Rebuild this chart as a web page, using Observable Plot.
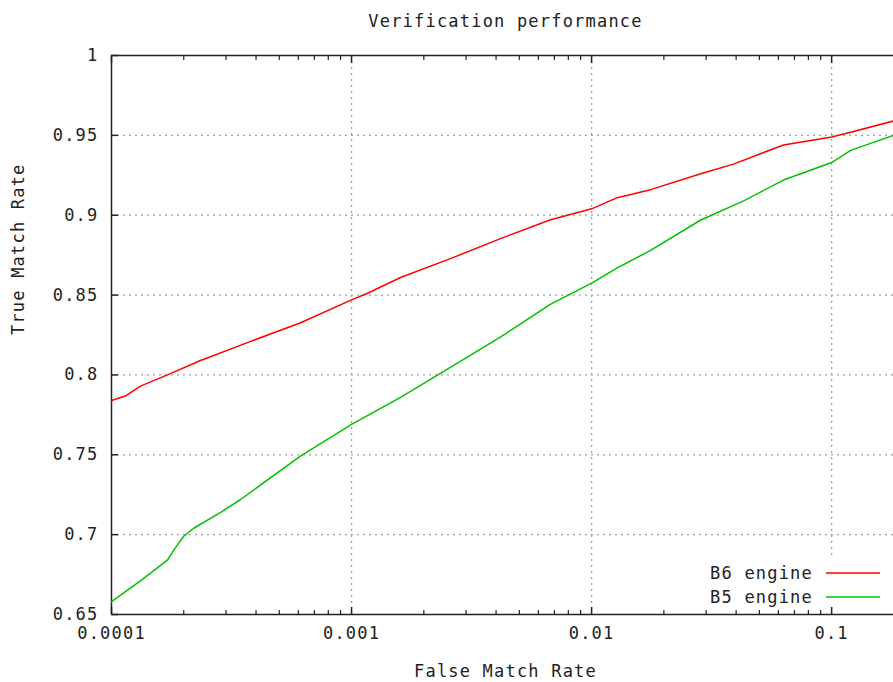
<!DOCTYPE html>
<html>
<head>
<meta charset="utf-8">
<script src="https://cdn.jsdelivr.net/npm/d3@7"></script>
<script src="https://cdn.jsdelivr.net/npm/@observablehq/plot@0.6"></script>
<style>
  html, body { margin: 0; padding: 0; background: #fff; }
  svg text { font-family: "DejaVu Sans Mono", monospace; }
</style>
</head>
<body>
<div id="chart"></div>
<script>
const title = "Verification performance";
const xLabel = "False Match Rate";
const yLabel = "True Match Rate";
const seriesNames = ["B6 engine", "B5 engine"];
const seriesColors = ["#ff0000", "#00c000"];

const fmrB6 = [0.0001, 0.000115, 0.000132, 0.000171, 0.000235, 0.00038, 0.00061, 0.001, 0.00116, 0.0016, 0.0026, 0.0042, 0.0067, 0.01, 0.0128, 0.0176, 0.0285, 0.039, 0.063, 0.1, 0.12, 0.181];
const tmrB6 = [0.784, 0.787, 0.793, 0.800, 0.809, 0.821, 0.8325, 0.847, 0.851, 0.861, 0.873, 0.8855, 0.897, 0.904, 0.911, 0.916, 0.926, 0.932, 0.944, 0.949, 0.952, 0.959];

const fmrB5 = [0.0001, 0.000132, 0.000171, 0.000185, 0.0002, 0.00022, 0.000285, 0.000345, 0.00061, 0.001, 0.0016, 0.0026, 0.0042, 0.0067, 0.01, 0.0128, 0.0176, 0.0285, 0.043, 0.063, 0.1, 0.12, 0.181];
const tmrB5 = [0.658, 0.671, 0.684, 0.692, 0.699, 0.704, 0.714, 0.722, 0.749, 0.769, 0.786, 0.805, 0.824, 0.844, 0.8575, 0.867, 0.878, 0.897, 0.909, 0.922, 0.933, 0.9406, 0.950];

const xDomain = [0.0001, 0.181];
const yDomain = [0.65, 1];
const xMajor = [0.0001, 0.001, 0.01, 0.1];
const xMinor = [2e-4,3e-4,4e-4,5e-4,6e-4,7e-4,8e-4,9e-4,2e-3,3e-3,4e-3,5e-3,6e-3,7e-3,8e-3,9e-3,2e-2,3e-2,4e-2,5e-2,6e-2,7e-2,8e-2,9e-2];
const xGrid = [0.001, 0.01, 0.1];
const yTicks = [0.65, 0.7, 0.75, 0.8, 0.85, 0.9, 0.95, 1];
const yGrid = [0.7, 0.75, 0.8, 0.85, 0.9, 0.95];

const b6 = fmrB6.map((f, i) => ({fmr: f, tmr: tmrB6[i], series: seriesNames[0]}));
const b5 = fmrB5.map((f, i) => ({fmr: f, tmr: tmrB5[i], series: seriesNames[1]}));

const font = {fontSize: 17, fill: "#222"};
const gridStyle = {stroke: "#a0a0a0", strokeOpacity: 1, strokeDasharray: "2,4", strokeWidth: 1.3};

const plot = Plot.plot({
  width: 893,
  height: 682,
  marginLeft: 111,
  marginRight: 0,
  marginTop: 55,
  marginBottom: 68,
  style: {fontFamily: "DejaVu Sans Mono, monospace", fontSize: "17px", background: "#fff"},
  x: {type: "log", domain: xDomain},
  y: {domain: yDomain},
  marks: [
    Plot.gridY(yGrid, gridStyle),
    Plot.gridX(xGrid, gridStyle),
    Plot.axisY(yTicks, {tickSize: 0, tickPadding: 13, tickFormat: d => String(+d.toFixed(2)), fontSize: 17, fill: "#222", label: null}),
    Plot.axisY(yTicks, {tickSize: -7, tickFormat: () => "", stroke: "#222", strokeWidth: 1.5, label: null}),
    Plot.axisX(xMajor, {tickSize: 0, tickPadding: 12, tickFormat: d => String(d), fontSize: 17, fill: "#222", label: null}),
    Plot.axisX(xMajor, {tickSize: -7, tickFormat: () => "", stroke: "#222", strokeWidth: 1.5, label: null}),
    Plot.axisX(xMinor, {tickSize: -4, tickFormat: () => "", stroke: "#222", strokeWidth: 1.2, label: null}),
    Plot.axisX(xMajor, {anchor: "top", tickSize: -7, tickFormat: () => "", stroke: "#222", strokeWidth: 1.5, label: null}),
    Plot.axisX(xMinor, {anchor: "top", tickSize: -4, tickFormat: () => "", stroke: "#222", strokeWidth: 1.2, label: null}),
    Plot.ruleY([yDomain[0], yDomain[1]], {stroke: "#222", strokeWidth: 1.5}),
    Plot.ruleX([xDomain[0]], {stroke: "#222", strokeWidth: 1.5}),
    Plot.line(b6, {x: "fmr", y: "tmr", stroke: seriesColors[0], strokeWidth: 1.5}),
    Plot.line(b5, {x: "fmr", y: "tmr", stroke: seriesColors[1], strokeWidth: 1.5}),
    Plot.text([title], {frameAnchor: "top", dy: -41, dx: 3, ...font}),
    Plot.text([xLabel], {frameAnchor: "bottom", dy: 62, dx: 3, ...font}),
    Plot.text([yLabel], {frameAnchor: "left", dx: -93, rotate: -90, ...font})
  ]
});

document.getElementById("chart").appendChild(plot);

// Legend (key) at the bottom-right of the frame
const svg = d3.select(plot);
const key = svg.append("g");
key.append("rect").attr("x", 690).attr("y", 558).attr("width", 203).attr("height", 48).attr("fill", "#fff");
seriesNames.forEach((name, i) => {
  const y = 573 + i * 24;
  key.append("text")
    .attr("x", 813).attr("y", y).attr("dy", "0.35em")
    .attr("text-anchor", "end")
    .attr("font-size", 17).attr("fill", "#222")
    .text(name);
  key.append("line")
    .attr("x1", 826).attr("x2", 880).attr("y1", y).attr("y2", y)
    .attr("stroke", seriesColors[i]).attr("stroke-width", 1.5);
});
svg.selectAll("text").attr("letter-spacing", 1.2);
</script>
</body>
</html>
